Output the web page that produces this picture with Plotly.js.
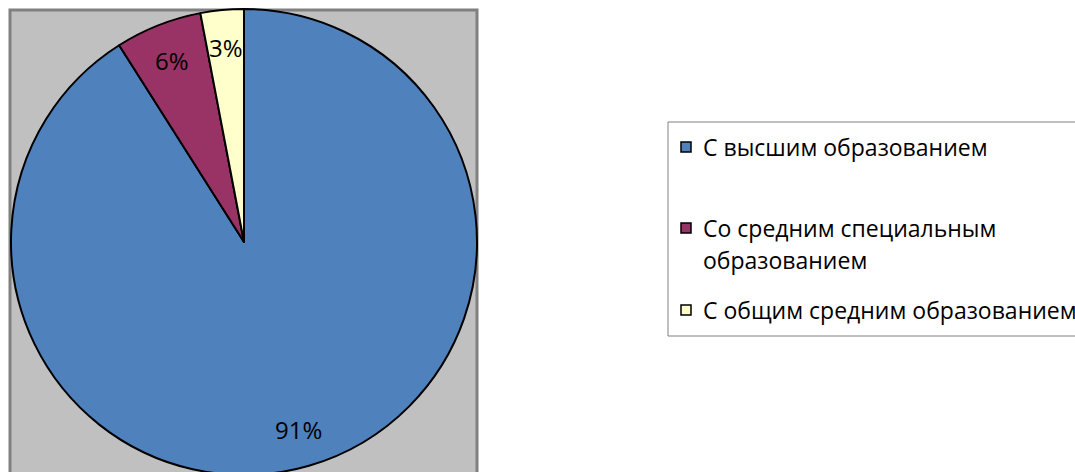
<!DOCTYPE html>
<html><head><meta charset="utf-8">
<script src="https://cdn.plot.ly/plotly-3.0.1.min.js"></script>
<style>html,body{margin:0;padding:0;overflow:hidden;background:#fff}#chart{width:1075px;height:490px}</style>
</head><body><div id="chart"></div>
<script>
// ---- data ----
var labels = ["С высшим образованием", "Со средним специальным<br>образованием", "С общим средним образованием"];
var values = [91, 6, 3];
var colors = ["#4F81BD", "#993366", "#FFFFCC"];

// ---- layout geometry (pixels) ----
var W = 1075, H = 490;
var cx = 244, cy = 242, R = 233;
var FONT = "'Open Sans', sans-serif";
function px(x){return x / W;}
function py(y){return 1 - y / H;}

var total = values.reduce(function(a,b){return a+b;},0);
var annotations = [], shapes = [];

// background plot area
shapes.push({type:"rect", xref:"paper", yref:"paper", x0:px(10), x1:px(477), y0:py(520), y1:py(10),
  fillcolor:"#C0C0C0", line:{color:"#808080", width:3}, layer:"below"});

// percentage labels at slice mid-angles (clockwise from 12 o'clock)
var cum = 0, labelFrac = 0.84;
values.forEach(function(v){
  var mid = (cum + v/2) / total * 2 * Math.PI;
  cum += v;
  var x = cx + R*labelFrac*Math.sin(mid);
  var y = cy - R*labelFrac*Math.cos(mid);
  annotations.push({xref:"paper", yref:"paper", x:px(x), y:py(y), xanchor:"center", yanchor:"middle",
    showarrow:false, text: Math.round(v/total*100) + "%", font:{family:FONT, size:24, color:"#000"}});
});

// legend box
shapes.push({type:"rect", xref:"paper", yref:"paper", x0:px(668), x1:px(1090), y0:py(336), y1:py(122),
  fillcolor:"rgba(0,0,0,0)", line:{color:"#808080", width:1}});
var legendY = [147, 228, 310];
var lineGap = 32;
labels.forEach(function(lab, i){
  var yc = legendY[i];
  shapes.push({type:"rect", xref:"paper", yref:"paper", x0:px(681), x1:px(691), y0:py(yc+5), y1:py(yc-5),
    fillcolor:colors[i], line:{color:"#000", width:1.5}});
  lab.split("<br>").forEach(function(line, j){
    annotations.push({xref:"paper", yref:"paper", x:px(701), y:py(yc + j*lineGap), xanchor:"left", yanchor:"middle",
      showarrow:false, text:line, font:{family:FONT, size:23, color:"#000"}});
  });
});

var data = [{
  type:"pie", labels:labels, values:values, sort:false, direction:"clockwise", rotation:0,
  marker:{colors:colors, line:{color:"#000", width:2}},
  textinfo:"none", hoverinfo:"none", showlegend:false,
  domain:{x:[px(cx-R), px(cx+R)], y:[py(cy+R), py(cy-R)]}
}];

var layout = {
  width:W, height:H, margin:{l:0,r:0,t:0,b:0}, paper_bgcolor:"#fff",
  showlegend:false, shapes:shapes, annotations:annotations
};
Plotly.newPlot("chart", data, layout, {staticPlot:true});
</script></body></html>
